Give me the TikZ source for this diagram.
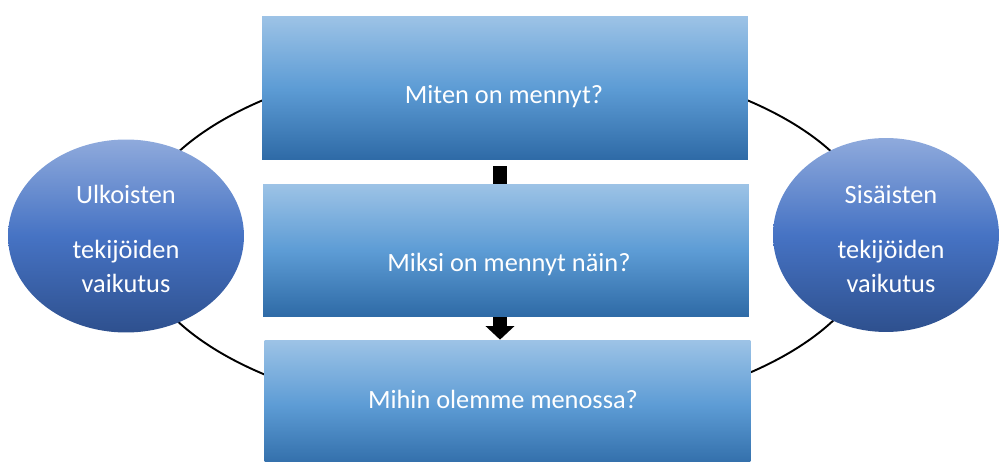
\documentclass[tikz,border=0pt]{standalone}
\usepackage{fontspec}
\setmainfont{Carlito}
\usetikzlibrary{shapes.geometric,arrows.meta,calc}
\definecolor{boxtop}{RGB}{157,195,230}
\definecolor{boxmid}{RGB}{93,156,213}
\definecolor{boxbot}{RGB}{46,106,166}
\definecolor{ovtop}{RGB}{143,170,220}
\definecolor{ovmid}{RGB}{70,115,196}
\definecolor{ovbot}{RGB}{46,80,142}
\begin{document}
\begin{tikzpicture}[x=0.02cm,y=-0.02cm,
  question/.style={rectangle, inner sep=0pt, minimum width=9.72cm,
    top color=boxtop, bottom color=boxbot, middle color=boxmid},
  factor/.style={ellipse, inner sep=0pt,
    top color=ovtop, bottom color=ovbot, middle color=ovmid},
  caption/.style={text=white, font=\fontsize{15}{19.8}\selectfont,
    align=center, anchor=base},
  link/.style={line width=0.28cm, black},
  loop/.style={line width=1.1pt, black}]
\useasboundingbox (0,0) rectangle (1000,462);

% surrounding loop behind everything
\draw[loop] (505,237) ellipse [x radius=7.4cm, y radius=3.62cm];

% the three question boxes
\node[question, minimum height=2.88cm] (q1) at (505,88) {};
\node[question, minimum height=2.66cm] (q2) at (506,250.5) {};
\node[question, minimum height=2.6cm] (q3) at (507.5,405) {};

\node[caption] (t1) at (504,104) {Miten on mennyt?};
\node[caption] (t2) at (509,272) {Miksi on mennyt näin?};
\node[caption] (t3) at (503,408) {Mihin olemme menossa?};

% external and internal factors
\node[factor, minimum width=4.72cm, minimum height=3.86cm] (ext) at (126,236) {};
\node[factor, minimum width=4.52cm, minimum height=3.88cm] (int) at (886,235) {};

% the base anchor sits on the last line
\node[caption] (extt) at (126,293) {Ulkoisten\\[11.4pt]tekijöiden\\vaikutus};
\node[caption] (intt) at (891,293) {Sisäisten\\[11.4pt]tekijöiden\\vaikutus};

% links between the questions
\coordinate (a1) at ($(q1.south)+(-5,0)$);
\coordinate (a2) at ($(q2.south)+(-6,0)$);
\draw[link, shorten <=0.12cm] (a1) -- (a1 |- q2.north);
\draw[link, -{Triangle[width=0.56cm,length=0.27cm]}] (a2) -- (a2 |- q3.north);
\end{tikzpicture}
\end{document}
